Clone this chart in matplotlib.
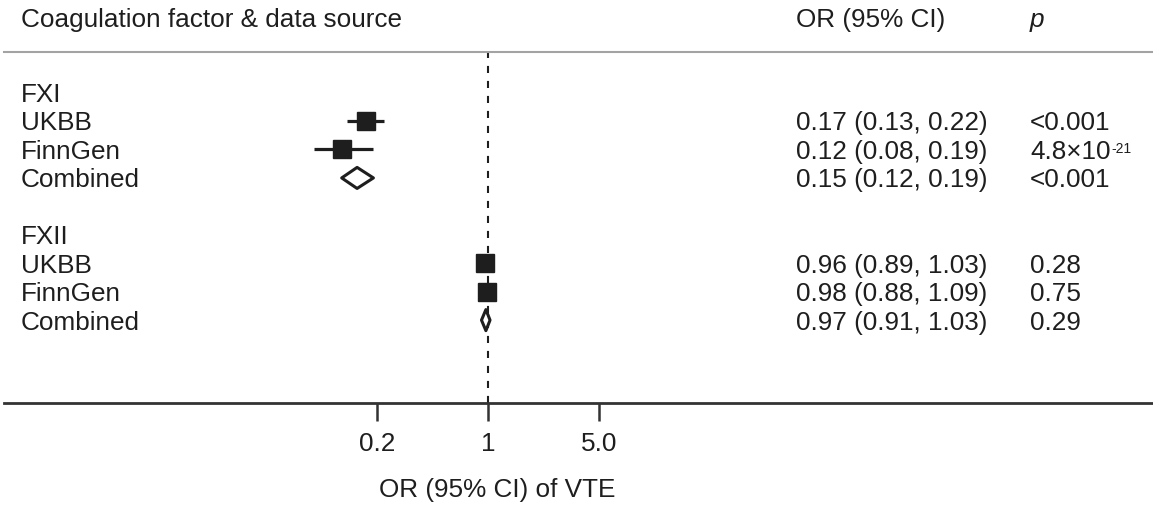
import numpy as np
import matplotlib
matplotlib.use('Agg')
import matplotlib.pyplot as plt
from matplotlib.patches import Polygon
from matplotlib import transforms

plt.rcParams['font.family'] = ['Liberation Sans', 'DejaVu Sans']

# odds ratios of VTE by coagulation factor and data source
groups = ['FXI', 'FXII']
sources = ['UKBB', 'FinnGen', 'Combined']
or_est = [[0.17, 0.12, 0.15], [0.96, 0.98, 0.97]]
ci_lo = [[0.13, 0.08, 0.12], [0.89, 0.88, 0.91]]
ci_hi = [[0.22, 0.19, 0.19], [1.03, 1.09, 1.03]]
# p values: (mantissa text, exponent text or None)
p_text = [[('<0.001', None), ('4.8×10', '-21'), ('<0.001', None)],
          [('0.28', None), ('0.75', None), ('0.29', None)]]
xticks = [0.2, 1, 5]
xtick_labels = ['0.2', '1', '5.0']

W, H = 1153, 507
FS = 18.8
INK = '#1e1e1e'

fig = plt.figure(figsize=(W / 100, H / 100), dpi=100)
ax = fig.add_axes([4 / W, 104 / H, (W - 4) / W, 351 / H])
ax.set_xscale('log')
ax.set_xlim(np.exp((4 - 488) / 69.0), np.exp((W - 488) / 69.0))
ax.set_ylim(10.914, -1.428)

for side in ['left', 'right']:
    ax.spines[side].set_visible(False)
ax.spines['top'].set_color('#a3a3a3')
ax.spines['top'].set_linewidth(1.5)
ax.spines['bottom'].set_color('#333333')
ax.spines['bottom'].set_linewidth(2.0)

ax.set_xticks(xticks)
ax.set_xticklabels(xtick_labels)
ax.xaxis.set_minor_locator(matplotlib.ticker.NullLocator())
ax.set_yticks([])
ax.tick_params(axis='x', length=13, width=1.8, pad=8, labelsize=FS,
               color='#333333', labelcolor=INK)
ax.set_xlabel('OR (95% CI) of VTE', fontsize=FS, color=INK)
ax.xaxis.set_label_coords((497.5 - 4) / (W - 4), -0.215)

ax.axvline(1, color=INK, lw=1.5, ls=(0, (3.4, 3.8)), zorder=1)

# row text: x in figure fraction, y in data rows, baseline shifted half a cap
blend = transforms.blended_transform_factory(fig.transFigure, ax.transData)
row_tr = blend + transforms.ScaledTranslation(0, -9.4 / 100, fig.dpi_scale_trans)


def row_text(x_px, row, s, **kw):
    return ax.text(x_px / W, row, s, transform=row_tr, va='baseline',
                   ha='left', fontsize=FS, color=INK, clip_on=False, **kw)


# header
fig.text(21 / W, 1 - 27.5 / H, 'Coagulation factor & data source',
         fontsize=FS, color=INK, va='baseline')
fig.text(796 / W, 1 - 27.5 / H, 'OR (95% CI)', fontsize=FS, color=INK,
         va='baseline')
fig.text(1030 / W, 1 - 27.5 / H, 'p', fontsize=FS, color=INK,
         va='baseline', style='italic')

half_h = 0.37
row = 0
for g, name in enumerate(groups):
    row_text(21, row, name)
    for s, src in enumerate(sources):
        r = row + 1 + s
        est, lo, hi = or_est[g][s], ci_lo[g][s], ci_hi[g][s]
        row_text(21, r, src)
        row_text(796, r, '{:.2f} ({:.2f}, {:.2f})'.format(est, lo, hi))
        base, expo = p_text[g][s]
        t = row_text(1030, r, base)
        if expo is not None:
            ax.annotate(expo, xy=(1, 1), xycoords=t, xytext=(0.5, -1.5),
                        textcoords='offset points', ha='left', va='top',
                        fontsize=10, color=INK)
        if src == 'Combined':
            diamond = Polygon([(lo, r), (est, r - half_h), (hi, r),
                               (est, r + half_h)], closed=True,
                              facecolor='white', edgecolor=INK, lw=2.2,
                              joinstyle='round', zorder=3)
            ax.add_patch(diamond)
        else:
            ax.hlines(r, lo, hi, color=INK, lw=2.3, zorder=2)
            ax.plot([est], [r], marker='s', ms=12.8, color=INK, mec=INK,
                    zorder=3)
    row += 5

fig.savefig('out.png', dpi=100, facecolor='white')
